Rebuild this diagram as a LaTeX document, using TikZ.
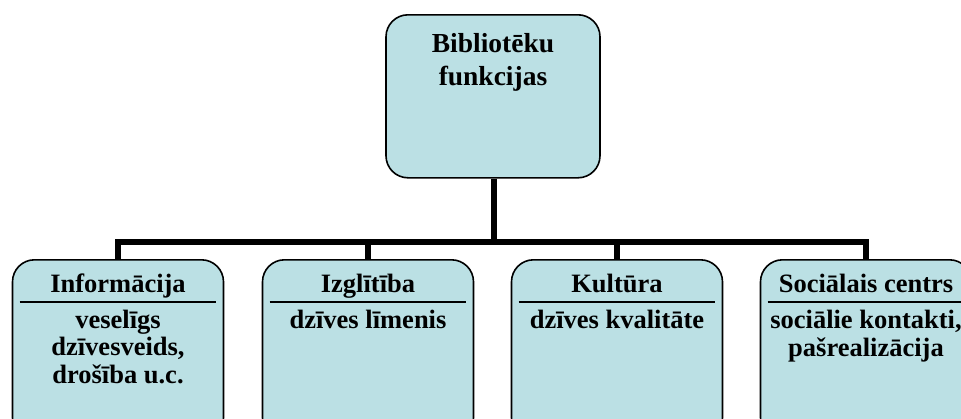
\documentclass[tikz,border=0pt]{standalone}
\usepackage{fontspec}
\setmainfont{Liberation Serif}
\definecolor{boxfill}{RGB}{187,224,228}
\begin{document}
\begin{tikzpicture}[x=1pt,y=-1pt,
  box/.style={draw=black,line width=1.6pt,fill=boxfill,rounded corners=22pt,
    minimum width=211pt,inner sep=0pt,anchor=north},
  conn/.style={line width=6pt,line join=miter},
  sep/.style={line width=1.6pt},
  txt/.style={font=\fontsize{26.5}{27.5}\selectfont\bfseries,align=center,anchor=base,inner sep=0pt},
  toptxt/.style={font=\fontsize{27.5}{33}\selectfont\bfseries,align=center,anchor=base,inner sep=0pt}]
\useasboundingbox (0,0) rectangle (961,418);
\clip (0,0) rectangle (961,418);
\fill[white] (0,0) rectangle (961,418);
% boxes
\node[box,minimum height=163pt,minimum width=214pt] (top) at (493,14) {};
\node[box,minimum height=180pt] (b1) at (118,259) {};
\node[box,minimum height=180pt] (b2) at (368,259) {};
\node[box,minimum height=180pt] (b3) at (617,259) {};
\node[box,minimum height=180pt] (b4) at (866,259) {};
% connectors
\coordinate (j) at (494,242);
\draw[conn] (top.south -| j) -- (j);
\draw[conn] (b1.north) -- (b1.north |- j) -- (b4.north |- j) -- (b4.north);
\draw[conn] (b2.north |- j) -- (b2.north);
\draw[conn] (b3.north |- j) -- (b3.north);
% separators
\foreach \b in {b1,b2,b3,b4}{
  \draw[sep] ([xshift=8pt,yshift=-43pt]\b.north west) -- ([xshift=-8pt,yshift=-43pt]\b.north east);
}
% texts (base anchor = baseline of last line)
\node[toptxt] (ttop) at (493,85) {Bibliotēku\\funkcijas};
\node[txt] (h1) at (118,292) {Informācija};
\node[txt] (d1) at (118,383) {veselīgs\\dzīvesveids,\\drošība u.c.};
\node[txt] (h2) at (368,292) {Izglītība};
\node[txt] (d2) at (368,328) {dzīves līmenis};
\node[txt] (h3) at (617,292) {Kultūra};
\node[txt] (d3) at (617,328) {dzīves kvalitāte};
\node[txt] (h4) at (866,292) {Sociālais centrs};
\node[txt] (d4) at (866,356) {sociālie kontakti,\\pašrealizācija};
\end{tikzpicture}
\end{document}
